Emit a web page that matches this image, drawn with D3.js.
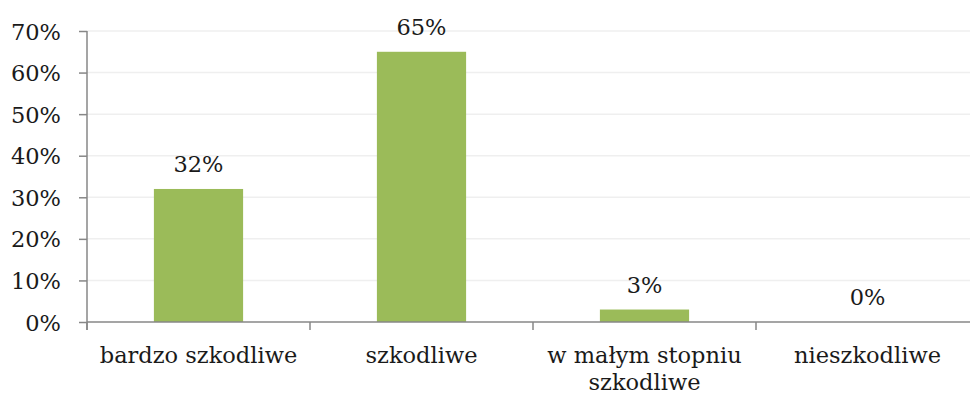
<!DOCTYPE html>
<html>
<head>
<meta charset="utf-8">
<script src="https://cdn.jsdelivr.net/npm/d3@7"></script>
<style>
  html, body { margin: 0; padding: 0; background: #fff; }
  svg { display: block; font-family: "DejaVu Serif", serif; }
</style>
</head>
<body>
<svg id="chart" width="970" height="398"></svg>
<script>
// Ocena szkodliwości – udział odpowiedzi
const categories = ["bardzo szkodliwe", "szkodliwe", "w małym stopniu szkodliwe", "nieszkodliwe"];
const values = [32, 65, 3, 0];
const yTicks = [0, 10, 20, 30, 40, 50, 60, 70];

const svg = d3.select("#chart");
const margin = { left: 87, right: -9, top: 31, bottom: 76 };
const W = 970, H = 398;
const x0 = margin.left, x1 = W - margin.right;
const yBottom = H - margin.bottom, yTop = margin.top;

const x = d3.scaleBand().domain(categories).range([x0, x1]).paddingInner(0.6).paddingOuter(0.3);
const y = d3.scaleLinear().domain([0, 70]).range([yBottom, yTop]);

const fontFamily = "DejaVu Serif, serif";
const fontSize = 22.5;
const textColor = "#1a1a1a";
const axisColor = "#878787";

// horizontal gridlines
svg.append("g")
  .selectAll("line")
  .data(yTicks.filter(d => d > 0))
  .join("line")
  .attr("x1", x0).attr("x2", x1)
  .attr("y1", d => y(d)).attr("y2", d => y(d))
  .attr("stroke", "#efefef").attr("stroke-width", 1.5);

// bars
svg.append("g")
  .selectAll("rect")
  .data(categories)
  .join("rect")
  .attr("x", d => x(d))
  .attr("width", x.bandwidth())
  .attr("y", (d, i) => y(values[i]))
  .attr("height", (d, i) => y(0) - y(values[i]))
  .attr("fill", "#9bbb59");

// value labels
svg.append("g")
  .selectAll("text")
  .data(categories)
  .join("text")
  .attr("x", d => x(d) + x.bandwidth() / 2)
  .attr("y", (d, i) => y(values[i]) - 17)
  .attr("text-anchor", "middle")
  .attr("font-family", fontFamily)
  .attr("font-size", fontSize)
  .attr("fill", textColor)
  .text((d, i) => values[i] + "%");

// y axis
const yAxis = svg.append("g")
  .attr("transform", `translate(${x0},0)`)
  .call(d3.axisLeft(y).tickValues(yTicks).tickFormat(d => d + "%").tickSize(8).tickPadding(18));
yAxis.attr("font-family", fontFamily);
yAxis.select(".domain").attr("stroke", axisColor).attr("stroke-width", 1.5)
  .attr("d", `M0,${yTop}V${yBottom + 8}`);
yAxis.selectAll(".tick line").attr("stroke", axisColor).attr("stroke-width", 1.5);
yAxis.selectAll(".tick text")
  .attr("font-size", fontSize)
  .attr("fill", textColor).attr("dy", "0.36em");

// x axis with tick marks at category boundaries
const boundaries = d3.range(categories.length + 1).map(i => x0 + i * x.step());
const xg = svg.append("g");
xg.append("line")
  .attr("x1", x0).attr("x2", x1)
  .attr("y1", yBottom).attr("y2", yBottom)
  .attr("stroke", axisColor).attr("stroke-width", 1.5);
xg.selectAll("line.tk")
  .data(boundaries)
  .join("line").attr("class", "tk")
  .attr("x1", d => d).attr("x2", d => d)
  .attr("y1", yBottom).attr("y2", yBottom + 8)
  .attr("stroke", axisColor).attr("stroke-width", 1.5);

// category labels, wrapped to the band width
const maxW = x.step() - 10;
xg.selectAll("text.cat")
  .data(categories)
  .join("text").attr("class", "cat")
  .attr("x", d => x(d) + x.bandwidth() / 2)
  .attr("y", yBottom + 41)
  .attr("text-anchor", "middle")
  .attr("font-family", fontFamily)
  .attr("font-size", fontSize)
  .attr("fill", textColor)
  .each(function(d) {
    const t = d3.select(this);
    const cx = t.attr("x");
    const words = d.split(" ");
    let line = [];
    let tspan = t.append("tspan").attr("x", cx).attr("dy", 0);
    words.forEach(w => {
      line.push(w);
      tspan.text(line.join(" "));
      if (tspan.node().getComputedTextLength() > maxW && line.length > 1) {
        line.pop();
        tspan.text(line.join(" "));
        line = [w];
        tspan = t.append("tspan").attr("x", cx).attr("dy", 27).text(w);
      }
    });
  });
</script>
</body>
</html>
